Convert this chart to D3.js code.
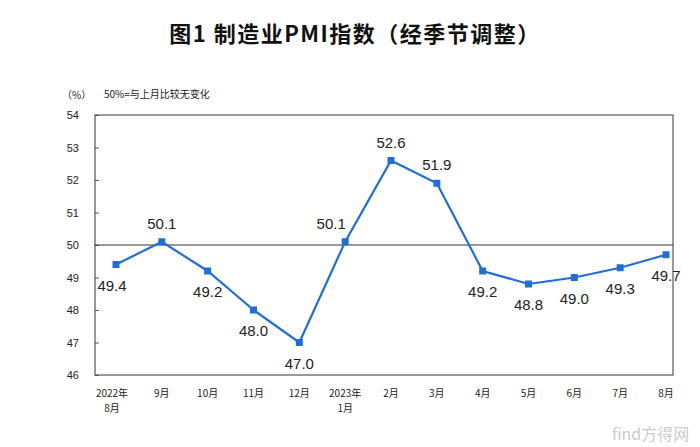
<!DOCTYPE html><html><head><meta charset="utf-8"><script src="https://cdn.jsdelivr.net/npm/d3@7"></script>
<style>body{margin:0;background:#fff}</style></head><body><svg id="c" width="700" height="447"></svg><script>
const categories=[["2022年","8月"],["9月"],["10月"],["11月"],["12月"],["2023年","1月"],["2月"],["3月"],["4月"],["5月"],["6月"],["7月"],["8月"]];
const values=[49.4,50.1,49.2,48.0,47.0,50.1,52.6,51.9,49.2,48.8,49.0,49.3,49.7];
const labelPos=["below","above","below","below","below","aboveL","above","above","below","below","below","below","below"];
const yTicks=[46,47,48,49,50,51,52,53,54];
const svg=d3.select("#c");
const L=95,R=673,T=115,B=375;
const x=d3.scalePoint().domain(d3.range(values.length)).range([116,666]);
const y=d3.scaleLinear().domain([46,54]).range([B,T]);
const f="'Noto Sans CJK SC',sans-serif";
svg.append("text").attr("x",355).attr("y",42).attr("text-anchor","middle").attr("font-family",f).attr("font-weight","bold").attr("font-size",22).attr("letter-spacing",1.5).attr("fill","#111").text("图1  制造业PMI指数（经季节调整）");
svg.append("text").attr("x",62).attr("y",99).attr("font-family",f).attr("font-size",10).attr("fill","#222").text("（%）");
svg.append("text").attr("x",104).attr("y",98).attr("font-family",f).attr("font-size",10).attr("fill","#222").text("50%=与上月比较无变化");
svg.append("rect").attr("x",L).attr("y",T).attr("width",R-L).attr("height",B-T).attr("fill","none").attr("stroke","#555").attr("stroke-width",1.2);
const ya=svg.append("g").attr("transform",`translate(${L},0)`).call(d3.axisLeft(y).tickValues(yTicks).tickSize(-4).tickPadding(16).tickFormat(d3.format("d")));
ya.select(".domain").remove();
ya.selectAll("text").attr("font-family","Arial,'Liberation Sans'").attr("font-size",11).attr("fill","#222");
ya.selectAll("line").attr("stroke","#555");
svg.append("line").attr("x1",L).attr("x2",R).attr("y1",y(50)).attr("y2",y(50)).attr("stroke","#333").attr("stroke-width",1.2);
svg.append("path").datum(values).attr("fill","none").attr("stroke","#1f6fd6").attr("stroke-width",2.2).attr("d",d3.line().x((d,i)=>x(i)).y(d=>y(d)));
svg.selectAll("rect.m").data(values).join("rect").attr("class","m").attr("x",(d,i)=>x(i)-3.5).attr("y",d=>y(d)-3.5).attr("width",7).attr("height",7).attr("fill","#1f6fd6");
svg.selectAll("text.v").data(values).join("text").attr("class","v")
 .attr("x",(d,i)=>x(i)+(labelPos[i]=="aboveL"?-14:(i==0?-4:0)))
 .attr("y",(d,i)=>y(d)+(labelPos[i]=="below"?26:-13))
 .attr("text-anchor","middle").attr("font-family","Arial,'Liberation Sans'").attr("font-size",15).attr("fill","#222").text(d=>d.toFixed(1));
const xl=svg.append("g");
categories.forEach((c,i)=>{c.forEach((s,j)=>{xl.append("text").attr("x",x(i)-(i==0?4:0)).attr("y",397+j*15).attr("text-anchor","middle").attr("font-family",f).attr("font-size",10).attr("fill","#222").text(s);});});
svg.append("text").attr("x",612).attr("y",440).attr("font-family",f).attr("font-size",16).attr("fill","#ccc").text("find方得网");
</script></body></html>
